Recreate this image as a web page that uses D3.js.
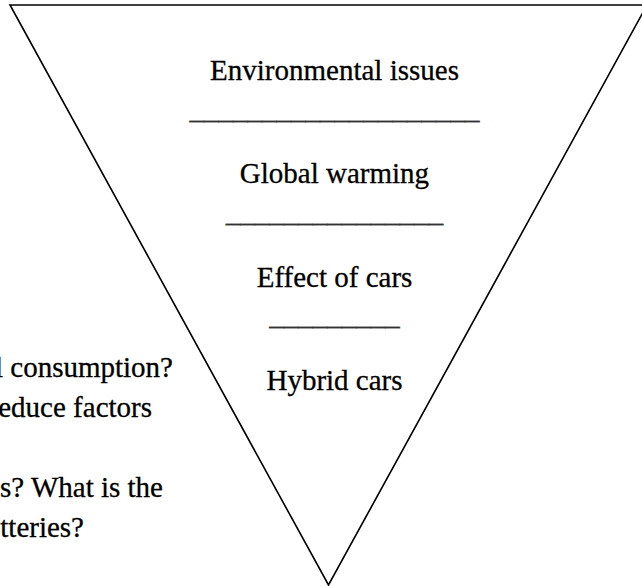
<!DOCTYPE html>
<html>
<head>
<meta charset="utf-8">
<script src="https://cdn.jsdelivr.net/npm/d3@7/dist/d3.min.js"></script>
<style>
  html, body { margin: 0; padding: 0; background: #fff; }
  svg { display: block; }
  text { font-family: "Liberation Serif", "Times New Roman", serif; fill: #000; stroke: #000; stroke-width: 0.3px; }
</style>
</head>
<body>
<svg id="chart" width="642" height="586"></svg>
<script>
// ---- data ----
const levels = ["Environmental issues", "Global warming", "Effect of cars", "Hybrid cars"];
const separatorLengths = [20, 15, 9];           // number of underscore characters
const sideLines = ["l consumption?", "educe factors", "", "s? What is the", "tteries?"];
const sideLineEnds = [173, 152, 0, 163, 84];
const trianglePts = [[-1, 0], [1, 0], [0, 1]];   // inverted triangle in unit space

const svg = d3.select("#chart");

// scales
const x = d3.scaleLinear().domain([-1, 1]).range([10, 647]);
const y = d3.scaleLinear().domain([0, 1]).range([5, 585]);
const levelY = d3.scalePoint().domain(levels).range([80, 390]);
const sideY = d3.scaleLinear().domain([0, 1]).range([377, 417]);
const cx = 334.5;
const fs = 29;

// triangle
const line = d3.line().x(d => x(d[0])).y(d => y(d[1]));
svg.append("path")
  .attr("d", line(trianglePts) + "Z")
  .attr("fill", "none")
  .attr("stroke", "#000")
  .attr("stroke-width", 1.6)
  .attr("stroke-linejoin", "miter");

// level labels
svg.selectAll("text.level")
  .data(levels)
  .join("text")
  .attr("class", "level")
  .attr("x", cx)
  .attr("y", d => levelY(d))
  .attr("text-anchor", "middle")
  .attr("font-size", fs)
  .text(d => d);

// separators (underscore rows)
svg.selectAll("text.sep")
  .data(separatorLengths)
  .join("text")
  .attr("class", "sep")
  .attr("x", cx)
  .attr("y", (d, i) => levelY(levels[i]) + 38.5)
  .attr("text-anchor", "middle")
  .attr("font-size", fs)
  .style("fill", "#333")
  .style("stroke", "#333")
  .style("stroke-width", "0.3px")
  .text(d => "_".repeat(d));

// side text (clipped at left edge, as in the reference)
svg.selectAll("text.side")
  .data(sideLines)
  .join("text")
  .attr("class", "side")
  .attr("x", (d, i) => sideLineEnds[i])
  .attr("y", (d, i) => sideY(i))
  .attr("text-anchor", "end")
  .attr("font-size", fs)
  .text(d => d);
</script>
</body>
</html>
